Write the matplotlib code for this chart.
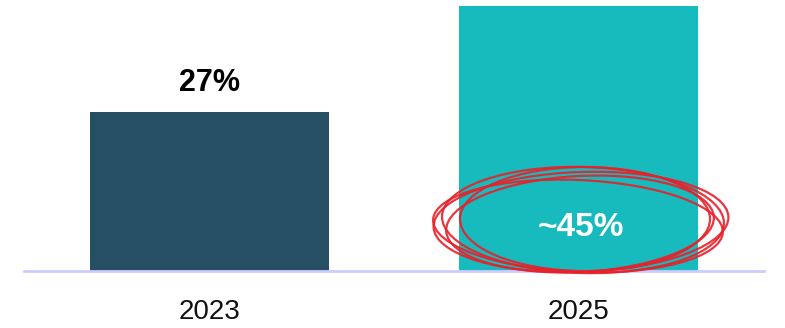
import matplotlib
matplotlib.use("Agg")
import matplotlib.pyplot as plt
from matplotlib.patches import Ellipse

categories = ["2023", "2025"]
values = [27, 45]
labels = ["27%", "~45%"]
colors = ["#274f63", "#18bbbd"]

W, H = 785, 328
fig = plt.figure(figsize=(W / 100, H / 100), dpi=100)
ax = fig.add_axes([24 / W, (H - 271) / H, 740 / W, 271 / H])
x = [0, 1]
ax.bar(x, values, width=0.647, color=colors, zorder=2)
ax.set_xlim(-0.502, 1.501)
ax.set_ylim(0, 46.0)
for s in ["top", "right", "left"]:
    ax.spines[s].set_visible(False)
ax.spines["bottom"].set_color("#ccccff")
ax.spines["bottom"].set_linewidth(2)
ax.set_yticks([])
ax.set_xticks(x)
ax.set_xticklabels(categories, fontsize=20, family="Liberation Sans", color="#111111")
ax.tick_params(axis="x", length=0, pad=20)

# value labels
ax.text(0, values[0] + 2.4, labels[0], ha="center", va="bottom", fontsize=22,
        fontweight="bold", family="Liberation Sans", color="black")
ax.text(1.005, 7.4, labels[1], ha="center", va="center", fontsize=24,
        fontweight="bold", family="Liberation Sans", color="white", zorder=5)

# red hand-drawn circles overlay (annotation)
ov = fig.add_axes([0, 0, 1, 1], facecolor="none")
ov.set_xlim(0, W)
ov.set_ylim(H, 0)
ov.axis("off")
ellipses = [
    ((581, 222), 295, 100, -2),
    ((583, 220), 282, 106, 1.5),
    ((580, 224), 268, 96, -3),
    ((585, 219), 250, 104, 0),
    ((578, 226), 290, 92, 2.5),
]
for c, w, h, a in ellipses:
    ov.add_patch(Ellipse(c, w, h, angle=a, fill=False, edgecolor="#e8202a",
                         linewidth=1.6, alpha=0.9))

fig.savefig("out.png", dpi=100)
